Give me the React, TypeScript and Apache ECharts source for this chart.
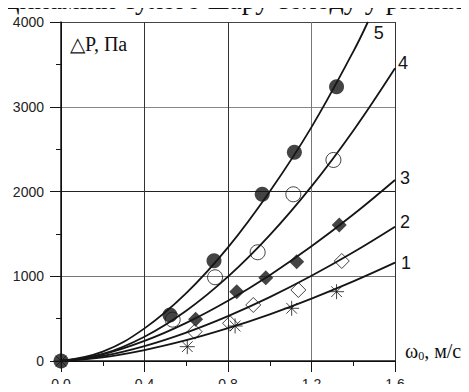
import React, { useEffect, useRef } from "react";
import * as echarts from "echarts";

const omega = [0, 0.2, 0.4, 0.6, 0.8, 1.0, 1.2, 1.4, 1.6];
const curve1 = [0, 43, 129, 245, 387, 551, 736, 939, 1160];
const curve2 = [0, 59, 176, 335, 529, 753, 1005, 1283, 1585];
const curve3 = [0, 79, 237, 450, 711, 1013, 1353, 1728, 2136];
const curve4 = [0, 83, 287, 593, 995, 1485, 2060, 2717, 3454];
const omega5 = [0, 0.2, 0.4, 0.6, 0.8, 1.0, 1.2, 1.4, 1.47];
const curve5 = [0, 110, 385, 800, 1340, 2000, 2760, 3650, 4000];

const pts1X = [0, 0.605, 0.834, 1.105, 1.32];
const pts1Y = [0, 169, 413, 622, 818];
const pts2X = [0.64, 0.81, 0.921, 1.137, 1.345];
const pts2Y = [346, 445, 661, 838, 1180];
const pts3X = [0.645, 0.842, 0.981, 1.129, 1.333];
const pts3Y = [494, 818, 983, 1172, 1605];
const pts4X = [0.535, 0.738, 0.942, 1.113, 1.305];
const pts4Y = [488, 988, 1283, 1967, 2372];
const pts5X = [0, 0.522, 0.733, 0.964, 1.118, 1.32];
const pts5Y = [0, 543, 1184, 1967, 2463, 3237];

const xTicks = ["0.0", "0.4", "0.8", "1.2", "1.6"];
const curveLabels = ["1", "2", "3", "4", "5"];

const INK = "#151515";
const zip = (xs: number[], ys: number[]) => xs.map((x, i) => [x, ys[i]]);

export default function App() {
  const ref = useRef<HTMLDivElement>(null);
  useEffect(() => {
    if (!ref.current) return;
    const chart = echarts.init(ref.current, null, { renderer: "svg" });
    const lineSeries = (xs: number[], ys: number[], label: string, offset: number[], distance: number) => ({
      type: "line",
      data: zip(xs, ys),
      smooth: 0.4,
      symbol: "none",
      silent: true,
      lineStyle: { color: INK, width: 1.8 },
      endLabel: {
        show: true,
        formatter: label,
        fontFamily: "Liberation Sans",
        fontSize: 18,
        color: INK,
        distance,
        offset,
      },
    });
    const scatter = (xs: number[], ys: number[], symbol: string, size: number, filled: boolean) => ({
      type: "scatter",
      data: zip(xs, ys),
      symbol,
      symbolSize: size,
      silent: true,
      itemStyle: filled
        ? { color: INK, borderWidth: 0 }
        : { color: "rgba(0,0,0,0)", borderColor: INK, borderWidth: 1 },
    });
    const asterisk = "path://M7 0L7 14M0 7L14 7M2 2L12 12M2 12L12 2";
    chart.setOption({
      animation: false,
      grid: { left: 61, right: 74, top: 22, bottom: 31, containLabel: false },
      xAxis: {
        type: "value",
        min: 0,
        max: 1.6,
        interval: 0.4,
        axisLine: { show: true, onZero: false, lineStyle: { color: INK, width: 1.5 } },
        axisTick: { show: true, length: 11, lineStyle: { color: INK, width: 1 } },
        minorTick: { show: true, splitNumber: 2, length: 5, lineStyle: { color: INK, width: 1 } },
        axisLabel: {
          margin: 16,
          fontFamily: "Liberation Sans",
          fontSize: 14,
          color: "#222",
          formatter: (v: number) => xTicks[Math.round(v / 0.4)] ?? "",
        },
        splitLine: {
          show: true,
          lineStyle: { color: ["#000", "#333", "#333", "#777", "#333"], width: 1 },
        },
      },
      yAxis: {
        type: "value",
        min: 0,
        max: 4000,
        interval: 1000,
        axisLine: { show: true, onZero: false, lineStyle: { color: INK, width: 1.5 } },
        axisTick: { show: true, length: 11, lineStyle: { color: INK, width: 1 } },
        minorTick: { show: true, splitNumber: 2, length: 5, lineStyle: { color: INK, width: 1 } },
        axisLabel: {
          margin: 17,
          fontFamily: "Liberation Sans",
          fontSize: 14,
          color: "#222",
          formatter: (v: number) => String(v),
        },
        splitLine: {
          show: true,
          lineStyle: { color: ["#000", "#777", "#222", "#888", "#444"], width: 1 },
        },
      },
      graphic: [
        {
          type: "text",
          left: -8,
          top: -15,
          style: {
            text: "одинаміки сухого шару солоду у різних ,",
            fontFamily: "Liberation Serif",
            fontSize: 28,
            fill: "#111",
          },
        },
        {
          type: "text",
          left: 70,
          top: 34,
          style: {
            text: "△P, Па",
            fontFamily: "Liberation Serif",
            fontSize: 20,
            fill: "#111",
          },
        },
        {
          type: "text",
          left: 405,
          top: 341,
          style: {
            text: "{a|ω}{s|0}{a|, м/с}",
            rich: {
              a: { fontFamily: "Liberation Serif", fontSize: 20, fill: "#111" },
              s: { fontFamily: "Liberation Serif", fontSize: 12, fill: "#111", padding: [9, 0, 0, 0] },
            },
          },
        },
      ],
      series: [
        lineSeries(omega, curve1, curveLabels[0], [0, 0], 6),
        lineSeries(omega, curve2, curveLabels[1], [0, -5], 5),
        lineSeries(omega, curve3, curveLabels[2], [0, -2], 5),
        lineSeries(omega, curve4, curveLabels[3], [0, -5], 3),
        lineSeries(omega5, curve5, curveLabels[4], [0, 11], 6),
        scatter(pts1X, pts1Y, asterisk, 15, false),
        scatter(pts2X, pts2Y, "diamond", 15, false),
        scatter(pts3X, pts3Y, "diamond", 15, true),
        scatter(pts4X, pts4Y, "circle", 15, false),
        scatter(pts5X, pts5Y, "circle", 15, true),
      ],
    });
    return () => chart.dispose();
  }, []);
  return <div ref={ref} style={{ width: 469, height: 392, margin: -8 }} />;
}
